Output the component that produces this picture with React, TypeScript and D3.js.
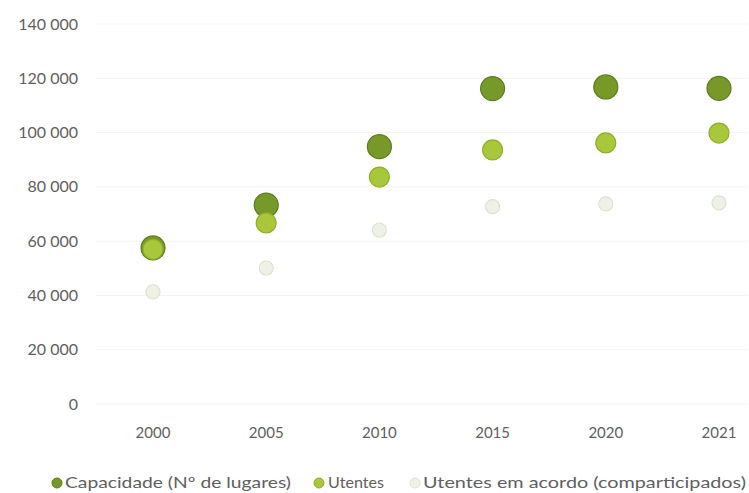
import React from "react";
import * as d3 from "d3";

const years = ["2000", "2005", "2010", "2015", "2020", "2021"];
const capacidade = [57500, 73300, 94800, 116200, 116800, 116300];
const utentes = [57000, 66700, 83600, 93600, 96200, 99800];
const acordo = [41300, 50100, 64100, 72700, 73700, 74100];
const yTicks = [0, 20000, 40000, 60000, 80000, 100000, 120000, 140000];
const seriesNames = ["Capacidade (Nº de lugares)", "Utentes", "Utentes em acordo (comparticipados)"];

const W = 749;
const H = 493;
const FONT = "Lato, 'Open Sans', sans-serif";
const TXT = "#606060";

const styles = [
  { fill: "#76992a", stroke: "#5c7d1b", r: 12 },
  { fill: "#a8c73a", stroke: "#8fae27", r: 10 },
  { fill: "#eef1e6", stroke: "#dce2cf", r: 7 },
];

const fmt = (v: number) => (v === 0 ? "0" : d3.format(",")(v).replace(/,/g, " "));

export default function App() {
  const x = d3.scalePoint<string>().domain(years).range([153, 719]);
  const y = d3.scaleLinear().domain([0, 140000]).range([404, 24]);
  const series = [capacidade, utentes, acordo];

  const legendItems = [
    { mx: 57, tx: 65, len: 226 },
    { mx: 319, tx: 328, len: 56 },
    { mx: 415, tx: 423, len: 323 },
  ];

  return (
    <svg width={W} height={H} style={{ position: "absolute", left: 0, top: 0, background: "#fff" }}>
      <rect width={W} height={H} fill="#fff" />
      {yTicks.map((t) => (
        <g key={t}>
          <line x1={96} x2={748} y1={y(t)} y2={y(t)} stroke="#f3f3f3" strokeWidth={1} />
          <text x={78} y={y(t)} dy="0.35em" textAnchor="end" fontFamily={FONT} fontSize={16} fill={TXT}>
            {fmt(t)}
          </text>
        </g>
      ))}
      {years.map((yr) => (
        <text key={yr} x={x(yr)} y={433} dy="0.35em" textAnchor="middle" fontFamily={FONT} fontSize={15} fill={TXT}>
          {yr}
        </text>
      ))}
      {series.map((vals, si) =>
        vals.map((v, i) => (
          <circle
            key={`${si}-${i}`}
            cx={x(years[i])}
            cy={y(v)}
            r={styles[si].r}
            fill={styles[si].fill}
            stroke={styles[si].stroke}
            strokeWidth={1.2}
          />
        ))
      )}
      {seriesNames.map((name, i) => (
        <g key={name}>
          <circle cx={legendItems[i].mx} cy={483} r={5} fill={styles[i].fill} stroke={styles[i].stroke} strokeWidth={1} />
          <text
            x={legendItems[i].tx}
            y={483}
            dy="0.35em"
            fontFamily={FONT}
            fontSize={15}
            fill={TXT}
            textLength={legendItems[i].len}
            lengthAdjust="spacingAndGlyphs"
          >
            {name}
          </text>
        </g>
      ))}
    </svg>
  );
}
